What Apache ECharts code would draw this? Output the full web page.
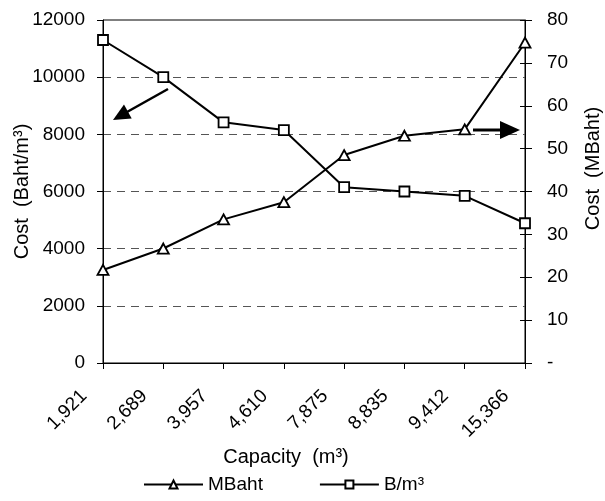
<!DOCTYPE html>
<html>
<head>
<meta charset="utf-8">
<script src="https://cdn.jsdelivr.net/npm/echarts@6/dist/echarts.min.js"></script>
<style>
html,body{margin:0;padding:0;background:#fff;}
#c{width:605px;height:501px;}
</style>
</head>
<body>
<div id="c"></div>
<script>
var categories = ['1,921', '2,689', '3,957', '4,610', '7,875', '8,835', '9,412', '15,366'];
var mbaht = [21.7, 26.7, 33.5, 37.5, 48.5, 53.0, 54.5, 74.7];
var bPerM3 = [11300, 10000, 8420, 8150, 6150, 6000, 5850, 4890];
var leftTicks = { min: 0, max: 12000, interval: 2000 };
var rightTicks = { min: 0, max: 80, interval: 10 };
var seriesNames = ['MBaht', 'B/m\u00b3'];

var FONT = 'Liberation Sans, Arial, sans-serif';
var FS = 19;
var FN = 20;
var chart = echarts.init(document.getElementById('c'), null, { renderer: 'canvas' });

chart.setOption({
  animation: false,
  backgroundColor: '#fff',
  textStyle: { fontFamily: FONT, color: '#000' },
  grid: {
    left: 103, right: 80, top: 20, bottom: 138,
    containLabel: false,
    outerBoundsMode: 'none',
    show: true, borderColor: '#000', borderWidth: 1, backgroundColor: 'transparent'
  },
  legend: {
    left: 138, top: 470,
    itemWidth: 59, itemHeight: 10, itemGap: 56,
    textStyle: { fontFamily: FONT, fontSize: FS, color: '#000' },
    data: seriesNames
  },
  xAxis: {
    type: 'category',
    data: categories,
    boundaryGap: false,
    name: 'Capacity  (m\u00b3)',
    nameLocation: 'middle',
    nameGap: 84,
    nameMoveOverlap: false,
    nameTextStyle: { fontFamily: FONT, fontSize: FN, color: '#000', padding: [0, 56, 0, 0] },
    axisLine: { lineStyle: { color: '#000', width: 1 } },
    axisTick: { show: true, length: 6, interval: 0, lineStyle: { color: '#000' } },
    axisLabel: { interval: 0, rotate: 45, margin: 11, fontFamily: FONT, fontSize: FS, color: '#000', padding: [0, 27, 0, 0] },
    splitLine: { show: false }
  },
  yAxis: [
    {
      type: 'value', position: 'left',
      min: leftTicks.min, max: leftTicks.max, interval: leftTicks.interval,
      name: 'Cost  (Baht/m\u00b3)',
      nameLocation: 'middle', nameGap: 71,
      nameMoveOverlap: false,
      nameTextStyle: { fontFamily: FONT, fontSize: FN, color: '#000' },
      axisLine: { show: true, lineStyle: { color: '#000', width: 1 } },
      axisTick: { show: true, length: 6, lineStyle: { color: '#000' } },
      axisLabel: {
        margin: 18, fontFamily: FONT, fontSize: FS, color: '#000',
        formatter: function (v) { return String(v); }
      },
      splitLine: { show: true, showMinLine: false, showMaxLine: false, lineStyle: { color: '#555', type: [8, 6], width: 1 } }
    },
    {
      type: 'value', position: 'right',
      min: rightTicks.min, max: rightTicks.max, interval: rightTicks.interval,
      name: 'Cost  (MBaht)',
      nameLocation: 'middle', nameGap: 58,
      nameMoveOverlap: false,
      nameTextStyle: { fontFamily: FONT, fontSize: FN, color: '#000', padding: [0, 0, 0, 46] },
      axisLine: { show: true, lineStyle: { color: '#000', width: 1 } },
      axisTick: { show: true, length: 7, lineStyle: { color: '#000' } },
      axisLabel: {
        margin: 22, fontFamily: FONT, fontSize: FS, color: '#000',
        formatter: function (v) { return v === 0 ? '-' : String(v); }
      },
      splitLine: { show: false }
    },
    {
      type: 'value', position: 'right',
      min: rightTicks.min, max: rightTicks.max, interval: rightTicks.interval,
      axisLine: { show: false },
      axisTick: { show: true, inside: true, length: 5, lineStyle: { color: '#000' } },
      axisLabel: { show: false },
      splitLine: { show: false }
    }
  ],
  series: [
    {
      name: seriesNames[0], type: 'line', yAxisIndex: 1, data: mbaht,
      symbol: 'triangle', symbolSize: [11, 10],
      itemStyle: { color: '#fff', borderColor: '#000', borderWidth: 1.8 },
      lineStyle: { color: '#000', width: 2 },
      emphasis: { disabled: true }, z: 3
    },
    {
      name: seriesNames[1], type: 'line', yAxisIndex: 0, data: bPerM3,
      symbol: 'rect', symbolSize: 10,
      itemStyle: { color: '#fff', borderColor: '#000', borderWidth: 1.8 },
      lineStyle: { color: '#000', width: 2 },
      emphasis: { disabled: true }, z: 3
    }
  ],
  graphic: [
    { type: 'line', shape: { x1: 168, y1: 89, x2: 127, y2: 112 }, style: { stroke: '#000', lineWidth: 2.5 }, z: 10 },
    { type: 'polygon', shape: { points: [[113, 120], [124, 104.6], [131.7, 118.6]] }, style: { fill: '#000' }, z: 10 },
    { type: 'line', shape: { x1: 473, y1: 130, x2: 501, y2: 130 }, style: { stroke: '#000', lineWidth: 3 }, z: 10 },
    { type: 'polygon', shape: { points: [[500, 121], [520, 130], [500, 139]] }, style: { fill: '#000' }, z: 10 }
  ]
});
</script>
</body>
</html>
